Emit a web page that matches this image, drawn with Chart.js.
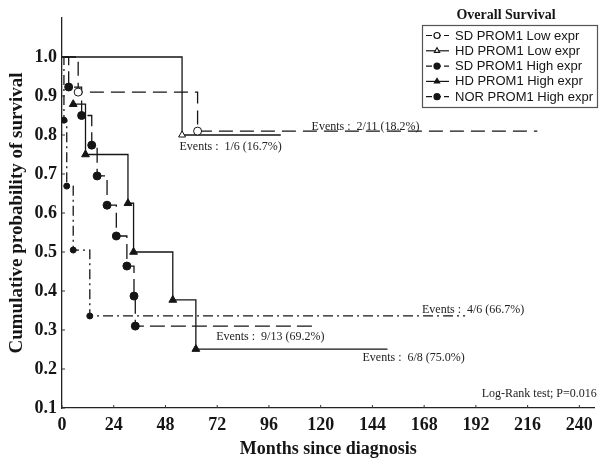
<!DOCTYPE html>
<html>
<head>
<meta charset="utf-8">
<script src="https://cdn.jsdelivr.net/npm/chart.js@4.4.0/dist/chart.umd.min.js"></script>
<style>
    html, body { margin: 0; padding: 0; background: #fff; }
    #wrap { width: 600px; height: 462px; }
</style>
</head>
<body>
<div id="wrap"><canvas id="km" width="600" height="462"></canvas></div>
<script>
// Curvas de Kaplan-Meier: meses y supervivencia acumulada
var seriesNames = ['SD PROM1 Low expr', 'HD PROM1 Low expr', 'SD PROM1 High expr', 'HD PROM1 High expr', 'NOR PROM1 High expr'];

var sdLowMonths = [0, 7.5, 62.9, 220.5];
var sdLowSurv = [1.0, 0.91, 0.81, 0.81];

var hdLowMonths = [0, 55.7, 101.5];
var hdLowSurv = [1.0, 0.80, 0.80];

var sdHighMonths = [0, 3.1, 9.1, 13.8, 16.3, 20.9, 25.2, 30.1, 33.4, 34.0, 116];
var sdHighSurv = [1.0, 0.923, 0.85, 0.774, 0.695, 0.62, 0.541, 0.464, 0.387, 0.31, 0.31];

var hdHighMonths = [5.2, 10.9, 30.6, 33.2, 51.4, 62.1, 151];
var hdHighSurv = [0.879, 0.75, 0.625, 0.5, 0.377, 0.251, 0.251];

var norHighMonths = [0, 0.9, 2.2, 5.2, 12.9, 187];
var norHighSurv = [1.0, 0.838, 0.669, 0.505, 0.336, 0.336];

var xTicks = [0, 24, 48, 72, 96, 120, 144, 168, 192, 216, 240];
var yTicks = [0.1, 0.2, 0.3, 0.4, 0.5, 0.6, 0.7, 0.8, 0.9, 1.0];

var eventTexts = ['Events :  1/6 (16.7%)', 'Events :  2/11 (18.2%)', 'Events :  4/6 (66.7%)',
    'Events :  9/13 (69.2%)', 'Events :  6/8 (75.0%)', 'Log-Rank test; P=0.016'];
// donde va cada texto (mes, supervivencia)
var eventSpots = [[54.5, 0.769], [115.8, 0.821], [167, 0.351], [71.5, 0.282], [139.4, 0.228], [194.7, 0.136]];

var serif = 'Liberation Serif';
var ink = '#151515';

function toPoints(months, surv) {
    return months.map(function (m, i) { return {x: m, y: surv[i]}; });
}

function markerRadius(ctx) {
    var d = ctx.dataset.data;
    var i = ctx.dataIndex;
    if (i === d.length - 1) return 0;
    if (i === 0 && d[0].y === 1) return 0;
    return ctx.dataset.markerSize;
}

function makeSet(idx, months, surv, style, filled, dash, size) {
    return {
        label: seriesNames[idx],
        data: toPoints(months, surv),
        stepped: true,
        borderColor: ink,
        borderWidth: 1.3,
        borderDash: dash,
        pointStyle: style,
        pointBackgroundColor: filled ? ink : '#fff',
        pointBorderColor: ink,
        pointBorderWidth: 1,
        markerSize: size,
        pointRadius: markerRadius,
        pointHoverRadius: markerRadius,
        fill: false
    };
}

// leyenda, textos de eventos y marcas de eje hacia dentro
var decoPlugin = {
    id: 'deco',
    afterDraw: function (chart) {
        var ctx = chart.ctx;
        var xs = chart.scales.x, ys = chart.scales.y;
        ctx.save();

        ctx.strokeStyle = '#333';
        ctx.lineWidth = 1;
        xTicks.forEach(function (v) {
            var px = xs.getPixelForValue(v);
            ctx.beginPath(); ctx.moveTo(px, ys.bottom); ctx.lineTo(px, ys.bottom - 3); ctx.stroke();
        });
        yTicks.forEach(function (v) {
            var py = ys.getPixelForValue(v);
            ctx.beginPath(); ctx.moveTo(xs.left, py); ctx.lineTo(xs.left + 3, py); ctx.stroke();
        });

        ctx.fillStyle = '#222';
        ctx.font = '12px "' + serif + '"';
        ctx.textBaseline = 'middle';
        ctx.textAlign = 'left';
        eventTexts.forEach(function (t, i) {
            ctx.fillText(t, xs.getPixelForValue(eventSpots[i][0]), ys.getPixelForValue(eventSpots[i][1]));
        });

        // leyenda
        ctx.font = 'bold 14px "' + serif + '"';
        ctx.textAlign = 'center';
        ctx.fillStyle = ink;
        ctx.fillText('Overall Survival', 506, 15);
        ctx.strokeStyle = '#555';
        ctx.lineWidth = 1.2;
        ctx.strokeRect(422.5, 25.5, 175, 82);
        ctx.font = '13px "Liberation Sans"';
        ctx.textAlign = 'left';
        chart.data.datasets.forEach(function (ds, i) {
            var y = 35.5 + i * 15.3;
            ctx.strokeStyle = ink;
            ctx.lineWidth = 1.2;
            ctx.setLineDash(ds.borderDash.length ? [6, 3] : []);
            ctx.beginPath(); ctx.moveTo(426, y); ctx.lineTo(449, y); ctx.stroke();
            ctx.setLineDash([]);
            ctx.fillStyle = ds.pointBackgroundColor;
            Chart.helpers.drawPoint(ctx, {pointStyle: ds.pointStyle, radius: 3, borderWidth: 1, rotation: 0}, 437, y);
            ctx.fillStyle = ink;
            ctx.fillText(ds.label, 455, y + 0.5);
        });
        ctx.restore();
    }
};

var datasets = [
    makeSet(0, sdLowMonths, sdLowSurv, 'circle', false, [14, 7], 4),
    makeSet(1, hdLowMonths, hdLowSurv, 'triangle', false, [], 4),
    makeSet(2, sdHighMonths, sdHighSurv, 'circle', true, [15, 6], 4),
    makeSet(3, hdHighMonths, hdHighSurv, 'triangle', true, [], 4.5),
    makeSet(4, norHighMonths, norHighSurv, 'circle', true, [10, 4, 2, 4], 3)
];

var tickFont = {family: serif, size: 18, weight: 'bold'};

new Chart(document.getElementById('km'), {
    type: 'line',
    data: {datasets: datasets},
    options: {
        responsive: false,
        animation: false,
        layout: {padding: {top: 18, right: 2, bottom: 0, left: 0}},
        plugins: {legend: {display: false}, tooltip: {enabled: false}},
        scales: {
            x: {
                type: 'linear',
                min: 0,
                max: 247,
                afterBuildTicks: function (s) { s.ticks = xTicks.map(function (v) { return {value: v}; }); },
                afterFit: function (s) { s.height = 54; },
                ticks: {autoSkip: false, maxRotation: 0, font: tickFont, color: ink, padding: 7},
                grid: {display: false, drawTicks: false},
                border: {display: true, color: '#222', width: 1.3},
                title: {display: true, text: 'Months since diagnosis', font: {family: serif, size: 18, weight: 'bold'},
                    color: ink, padding: {top: 0, bottom: 2}}
            },
            y: {
                type: 'linear',
                min: 0.1,
                max: 1.1,
                afterBuildTicks: function (s) { s.ticks = yTicks.map(function (v) { return {value: v}; }); },
                afterFit: function (s) { s.width = 62; },
                ticks: {font: tickFont, color: ink, padding: 5, callback: function (v) { return v.toFixed(1); }},
                grid: {display: false, drawTicks: false},
                border: {display: true, color: '#222', width: 1.3},
                title: {display: true, text: 'Cumulative probability of survival', font: {family: serif, size: 19, weight: 'bold'},
                    color: ink, padding: {top: 6, bottom: 0}}
            }
        }
    },
    plugins: [decoPlugin]
});
</script>
</body>
</html>
